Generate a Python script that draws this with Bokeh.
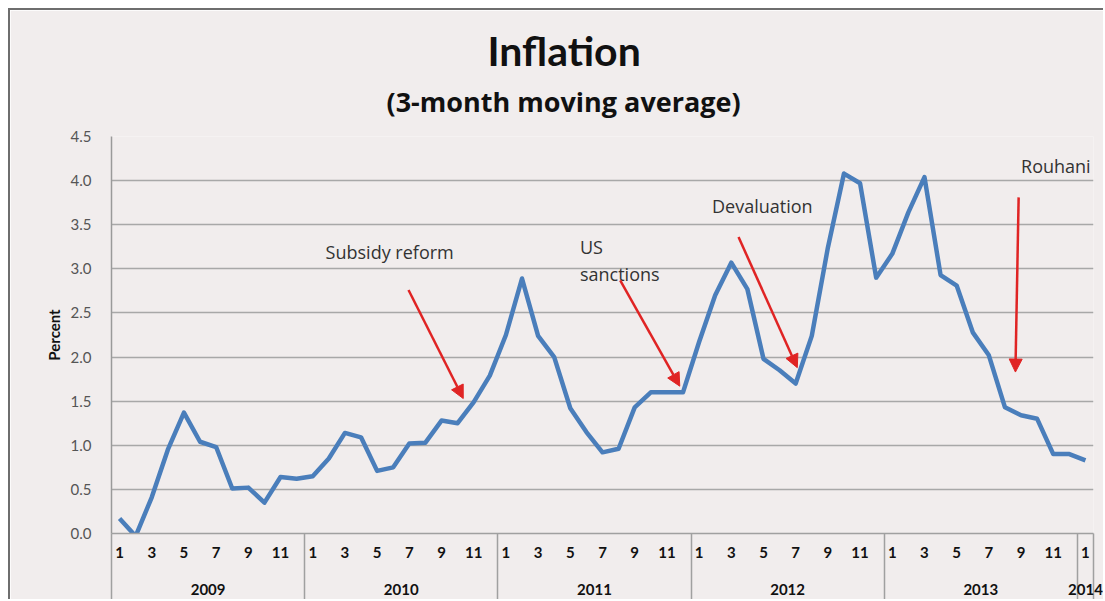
from bokeh.plotting import figure
from bokeh.models import (Range1d, LinearAxis, FixedTicker, Title, Label, Arrow,
                          NormalHead, ColumnDataSource, NumeralTickFormatter)
from bokeh.embed import file_html
from bokeh.resources import INLINE

# ---------------- data ----------------
years = ["2009", "2010", "2011", "2012", "2013", "2014"]
months_in_year = [12, 12, 12, 12, 12, 1]
month_tick_labels = ["1", "3", "5", "7", "9", "11"]
inflation = [0.17, -0.03, 0.41, 0.95, 1.37, 1.04, 0.98, 0.51, 0.52, 0.35, 0.64, 0.62,
             0.65, 0.85, 1.14, 1.09, 0.71, 0.75, 1.02, 1.03, 1.28, 1.25, 1.49, 1.79,
             2.25, 2.89, 2.24, 2.00, 1.42, 1.15, 0.92, 0.96, 1.43, 1.60, 1.60, 1.60,
             2.17, 2.70, 3.07, 2.77, 1.98, 1.85, 1.70, 2.24, 3.24, 4.08, 3.97, 2.90,
             3.17, 3.64, 4.04, 2.93, 2.81, 2.28, 2.02, 1.43, 1.34, 1.30, 0.90, 0.90,
             0.83]
y_ticks = [0.0, 0.5, 1.0, 1.5, 2.0, 2.5, 3.0, 3.5, 4.0, 4.5]

# annotations (x in months since Jan 2009, y in percent)
note_texts = ["Subsidy reform", "US", "sanctions", "Devaluation", "Rouhani"]
note_x = [13.3, 29.1, 29.1, 37.3, 56.5]
note_y = [3.19, 3.25, 2.94, 3.71, 4.16]
arrow_x0 = [18.45, 31.6, 38.95, 56.35]
arrow_y0 = [2.76, 2.87, 3.36, 3.81]
arrow_x1 = [21.85, 35.3, 42.6, 56.15]
arrow_y1 = [1.53, 1.67, 1.88, 1.83]

# ---------------- derived positions ----------------
n = len(inflation)
x_pos = [i + 0.5 for i in range(n)]
bounds = [0]
for m in months_in_year:
    bounds.append(bounds[-1] + m)
month_ticks, month_over = [], {}
for yi, m in enumerate(months_in_year):
    for k in range(m):
        lab = str(k + 1)
        if lab in month_tick_labels:
            t = bounds[yi] + k + 0.5
            month_ticks.append(t)
            month_over[t] = lab
year_ticks = [(bounds[i] + bounds[i + 1]) / 2 for i in range(len(years))]
year_over = {t: y for t, y in zip(year_ticks, years)}

BG = "#f1eded"
FONT = "Lato"
NOTE_FONT = "Open Sans"

p = figure(width=1095, height=591, output_backend="svg", toolbar_location=None,
           x_axis_type=None, title=None,
           x_range=Range1d(0, n), y_range=Range1d(0, 4.5),
           min_border_left=101, min_border_right=12, min_border_top=126,
           min_border_bottom=68)
p.background_fill_color = BG
p.border_fill_color = BG
p.outline_line_color = None
p.styles = {"margin-left": "8px", "margin-top": "8px",
            "border-top": "2px solid #6e6e6e", "border-left": "2px solid #6e6e6e"}

# titles (first added = closest to plot)
p.add_layout(Title(text="(3-month moving average)", align="left", offset=275,
                   text_font=NOTE_FONT, text_font_size="27px", text_font_style="bold",
                   text_color="#111111", standoff=33), "above")
p.add_layout(Title(text="Inflation", align="left", offset=376,
                   text_font=FONT, text_font_size="41px", text_font_style="bold",
                   text_color="#111111", standoff=-21), "above")

# y axis
ya = p.yaxis[0]
ya.ticker = FixedTicker(ticks=y_ticks)
ya.formatter = NumeralTickFormatter(format="0.0")
ya.major_tick_line_color = None
ya.minor_tick_line_color = None
ya.axis_line_color = "#9a9a9a"
ya.axis_line_width = 1.5
ya.major_label_text_font = FONT
ya.major_label_text_font_size = "15px"
ya.major_label_text_color = "#555555"
ya.major_label_standoff = 14
ya.axis_label = "Percent"
ya.axis_label_text_font = FONT
ya.axis_label_text_font_size = "15px"
ya.axis_label_text_font_style = "bold"
ya.axis_label_text_color = "#111111"
ya.axis_label_standoff = 5

p.ygrid.ticker = FixedTicker(ticks=y_ticks)
p.ygrid.grid_line_color = "#a8a8a8"
p.ygrid.grid_line_width = 1.5

# month axis; year separators drawn as outward minor ticks
max_ = LinearAxis(ticker=FixedTicker(ticks=month_ticks, minor_ticks=bounds + [n]),
                  major_label_overrides=month_over)
max_.major_tick_in = 0
max_.major_tick_out = 0
max_.minor_tick_in = -70
max_.minor_tick_out = 0
max_.minor_tick_line_color = "#a0a0a0"
max_.minor_tick_line_width = 1.5
max_.axis_line_color = "#a0a0a0"
max_.axis_line_width = 1.5
max_.major_label_text_font = FONT
max_.major_label_text_font_size = "15px"
max_.major_label_text_font_style = "bold"
max_.major_label_text_color = "#111111"
max_.major_label_standoff = 13
p.add_layout(max_, "below")

yax = LinearAxis(ticker=FixedTicker(ticks=year_ticks, minor_ticks=[]),
                 major_label_overrides=year_over)
yax.major_tick_line_color = None
yax.minor_tick_line_color = None
yax.axis_line_color = None
yax.major_label_text_font = FONT
yax.major_label_text_font_size = "15px"
yax.major_label_text_font_style = "bold"
yax.major_label_text_color = "#111111"
yax.major_label_standoff = 17
p.add_layout(yax, "below")

src = ColumnDataSource(dict(x=x_pos, y=inflation))
p.line("x", "y", source=src, line_color="#4a7ebb", line_width=4.5, line_join="round")

for t, x, y in zip(note_texts, note_x, note_y):
    p.add_layout(Label(x=x, y=y, text=t, text_align="left", text_baseline="middle",
                       text_font=NOTE_FONT, text_font_size="18px", text_color="#333333"))

for x0, y0, x1, y1 in zip(arrow_x0, arrow_y0, arrow_x1, arrow_y1):
    p.add_layout(Arrow(x_start=x0, y_start=y0, x_end=x1, y_end=y1,
                       line_color="#e02424", line_width=2.5,
                       end=NormalHead(size=13, fill_color="#e02424",
                                      line_color="#e02424")))

open("out.html", "w").write(file_html(p, INLINE))
